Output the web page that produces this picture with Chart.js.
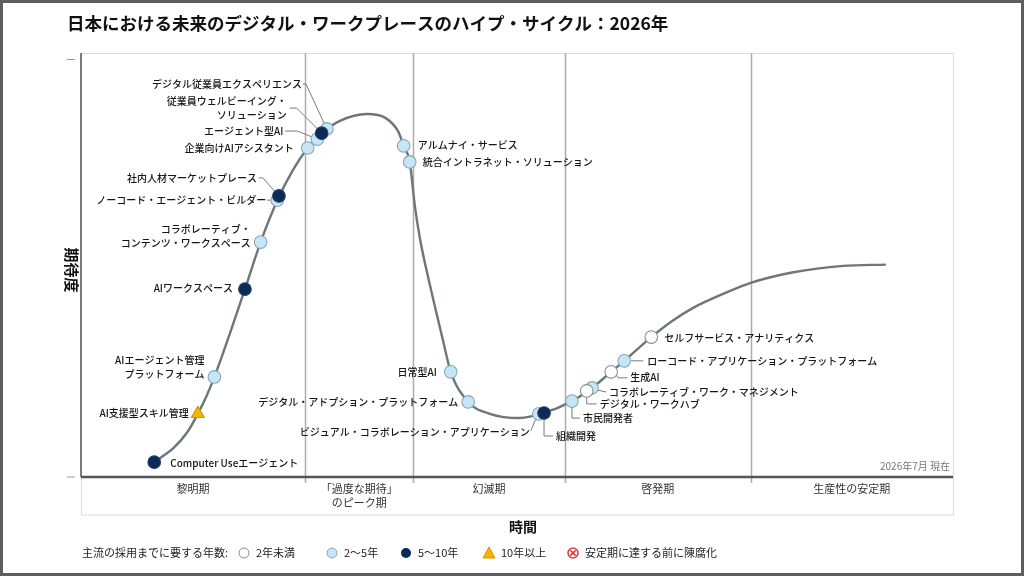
<!DOCTYPE html>
<html lang="ja">
<head>
<meta charset="utf-8">
<title>日本における未来のデジタル・ワークプレースのハイプ・サイクル：2026年</title>
<script src="https://cdn.jsdelivr.net/npm/chart.js@4.4.1/dist/chart.umd.min.js"></script>
<style>
  html, body { margin: 0; padding: 0; background: #fff; }
  canvas { display: block; }
</style>
</head>
<body>
<canvas id="hypeChart" width="1024" height="576"></canvas>
<script>
// hype curve (time 0-100, expectation 0-100)
const curveTime = [8.4, 9.1, 10.6, 12.2, 13.4, 14.4, 15.3, 17.1, 18.8, 20.6, 22.6, 24.3, 26.0, 27.6, 29.7, 32.8, 34.9, 36.4, 37.0, 37.7,
                   38.3, 38.9, 39.7, 40.6, 41.5, 42.4, 44.4, 46.9, 50.3, 53.1, 56.3, 58.6, 60.8, 62.3, 65.4, 67.8, 70.2, 74.1, 76.8, 81.7, 87.4, 92.3];
const curveHype = [3.5, 4.5, 6.8, 10.6, 14.9, 19.1, 23.6, 34.0, 44.3, 55.4, 65.6, 72.4, 77.6, 81.1, 84.0, 85.6, 84.7, 81.4, 78.1, 74.3,
                   63.7, 55.9, 48.1, 40.1, 32.3, 24.8, 17.7, 14.9, 13.9, 15.1, 17.9, 21.0, 24.8, 27.4, 33.0, 36.8, 39.9, 43.6, 45.8, 48.3, 49.8, 50.1];

// technologies on the curve
const techNames = [
  'Computer Useエージェント', 'AI支援型スキル管理', 'AIエージェント管理\nプラットフォーム', 'AIワークスペース',
  'コラボレーティブ・\nコンテンツ・ワークスペース', 'ノーコード・エージェント・ビルダー', '社内人材マーケットプレース',
  '企業向けAIアシスタント', 'エージェント型AI', '従業員ウェルビーイング・\nソリューション', 'デジタル従業員エクスペリエンス',
  'アルムナイ・サービス', '統合イントラネット・ソリューション', '日常型AI', 'デジタル・アドプション・プラットフォーム',
  'ビジュアル・コラボレーション・アプリケーション', '組織開発', '市民開発者', 'デジタル・ワークハブ',
  'コラボレーティブ・ワーク・マネジメント', '生成AI', 'ローコード・アプリケーション・プラットフォーム', 'セルフサービス・アナリティクス'
];
const techTime = [8.4, 13.4, 15.3, 18.8, 20.6, 22.5, 22.7, 26.0, 27.1, 27.6, 28.2, 37.0, 37.7, 42.4, 44.4, 52.5, 53.1, 56.3, 58.0, 58.6, 60.8, 62.3, 65.4];
const techHype = [3.5, 14.9, 23.6, 44.3, 55.4, 65.3, 66.3, 77.6, 79.7, 81.1, 82.1, 78.1, 74.3, 24.8, 17.7, 14.9, 15.1, 17.9, 20.3, 21.0, 24.8, 27.4, 33.0];
const techYears = ['5to10', 'gt10', '2to5', '5to10', '2to5', '2to5', '5to10', '2to5', '2to5', '5to10', '2to5', '2to5', '2to5', '2to5', '2to5',
                   '2to5', '5to10', '2to5', 'lt2', '2to5', 'lt2', '2to5', 'lt2'];

// phases along the time axis
const phaseNames = ['黎明期', '「過度な期待」\nのピーク期', '幻滅期', '啓発期', '生産性の安定期'];
const phaseEnds = [25.7, 38.1, 55.5, 76.8, 100];

const legendTitle = '主流の採用までに要する年数:';
const legendLabels = ['2年未満', '2〜5年', '5〜10年', '10年以上', '安定期に達する前に陳腐化'];

// label placement relative to each mark: [dx, dy, align, leader path]
const labelLayout = [
  [16, 1, 'left', null],
  [-9, -1, 'right', null],
  [-10, -17, 'right', null],
  [-12, -1, 'right', null],
  [-10, -13, 'right', null],
  [-11, 0, 'right', [[-10, 0], [-6, 0]]],
  [-22, -18, 'right', [[-20, -18], [-16, -18], [-3, -3]]],
  [-14, 0, 'right', null],
  [-34, -8, 'right', [[-32, -8], [-20, -8], [-5, -2]]],
  [-35, -32, 'right', [[-32, -25], [-25, -25], [-3, -3]]],
  [-25, -45, 'right', [[-24, -45], [-21, -45], [-2, -4]]],
  [14, -1, 'left', null],
  [13, 0, 'left', null],
  [-14, 0, 'right', null],
  [-10, 0, 'right', null],
  [-9, 18, 'right', [[-8, 17], [-3, 5]]],
  [12, 23, 'left', [[0, 6], [0, 23], [9, 23]]],
  [11, 17, 'left', [[0, 6], [0, 17], [8, 17]]],
  [13, 13, 'left', [[0, 6], [0, 13], [10, 13]]],
  [17, 4, 'left', [[5, 2], [14, 4]]],
  [19, 5, 'left', [[5, 3], [7, 6], [16, 6]]],
  [23, 0, 'left', [[7, 0], [19, 0]]],
  [13, 1, 'left', null]
];

const FONT = '"Noto Sans CJK JP", "Noto Sans", sans-serif';
const groups = [
  { key: '2to5', bg: '#c6e6f5', border: '#86a8b8', order: 4, style: 'circle', r: 6.3 },
  { key: 'lt2', bg: '#ffffff', border: '#8c8c8c', order: 3, style: 'circle', r: 6.3 },
  { key: '5to10', bg: '#0c2a56', border: '#253f66', order: 2, style: 'circle', r: 6.3 },
  { key: 'gt10', bg: '#f4b400', border: '#cf9800', order: 1, style: 'triangle', r: 7.5 }
];

const datasets = [{
  label: 'curve',
  data: curveTime.map((t, i) => ({ x: t, y: curveHype[i] })),
  showLine: true,
  borderColor: '#6b777b',
  borderWidth: 2.4,
  pointRadius: 0,
  cubicInterpolationMode: 'monotone',
  order: 10
}];
groups.forEach(g => {
  const pts = [];
  techYears.forEach((k, i) => { if (k === g.key) pts.push({ x: techTime[i], y: techHype[i] }); });
  datasets.push({
    label: g.key,
    data: pts,
    showLine: false,
    pointStyle: g.style,
    pointRadius: g.r,
    pointBorderWidth: 1.1,
    pointBackgroundColor: g.bg,
    pointBorderColor: g.border,
    order: g.order
  });
});

function seg(ctx, pts) {
  ctx.beginPath();
  ctx.moveTo(pts[0][0], pts[0][1]);
  for (let k = 1; k < pts.length; k++) ctx.lineTo(pts[k][0], pts[k][1]);
  ctx.stroke();
}

const hypePlugin = {
  id: 'hypeDecor',
  beforeDatasetsDraw(chart) {
    const { ctx, chartArea: a, scales: { x, y } } = chart;
    ctx.save();
    // plot box and band under the axis
    ctx.strokeStyle = '#dcdcdc';
    ctx.lineWidth = 1;
    ctx.strokeRect(a.left + 0.5, a.top + 0.5, a.right - a.left, a.bottom - a.top);
    ctx.strokeRect(a.left + 0.5, a.bottom, a.right - a.left, 38);
    // phase dividers
    ctx.strokeStyle = '#acacac';
    ctx.lineWidth = 1.5;
    phaseEnds.slice(0, -1).forEach(v => {
      const px = Math.round(x.getPixelForValue(v)) + 0.5;
      seg(ctx, [[px, a.top], [px, a.bottom + 6]]);
    });
    // axes
    ctx.strokeStyle = '#555';
    ctx.lineWidth = 1.5;
    seg(ctx, [[a.left, a.top], [a.left, a.bottom]]);
    ctx.lineWidth = 2.5;
    seg(ctx, [[a.left, a.bottom], [a.right, a.bottom]]);
    ctx.strokeStyle = '#999';
    ctx.lineWidth = 1;
    seg(ctx, [[67, a.top + 6.5], [75, a.top + 6.5]]);
    seg(ctx, [[67, a.bottom], [75, a.bottom]]);
    // leader lines
    ctx.strokeStyle = '#7a7a7a';
    ctx.lineWidth = 1;
    techNames.forEach((n, i) => {
      const lead = labelLayout[i][3];
      if (!lead) return;
      const px = x.getPixelForValue(techTime[i]);
      const py = y.getPixelForValue(techHype[i]);
      seg(ctx, lead.map(p => [px + p[0], py + p[1]]));
    });
    ctx.restore();
  },
  afterDatasetsDraw(chart) {
    const { ctx, chartArea: a, scales: { x, y } } = chart;
    ctx.save();
    ctx.textBaseline = 'middle';
    // technology labels
    ctx.fillStyle = '#161616';
    ctx.font = '500 10px ' + FONT;
    techNames.forEach((n, i) => {
      const [dx, dy, align] = labelLayout[i];
      const px = x.getPixelForValue(techTime[i]);
      const py = y.getPixelForValue(techHype[i]);
      ctx.textAlign = align;
      n.split('\n').forEach((ln, j) => ctx.fillText(ln, px + dx, py + dy + j * 14));
    });
    // phase names
    ctx.fillStyle = '#333';
    ctx.font = '11px ' + FONT;
    ctx.textAlign = 'center';
    let start = 0;
    phaseNames.forEach((p, i) => {
      const cx = (x.getPixelForValue(start) + x.getPixelForValue(phaseEnds[i])) / 2;
      p.split('\n').forEach((ln, j) => ctx.fillText(ln, cx, a.bottom + 12 + j * 14));
      start = phaseEnds[i];
    });
    // as-of note
    ctx.fillStyle = '#777';
    ctx.font = '10px ' + FONT;
    ctx.textAlign = 'right';
    ctx.fillText('2026年7月 現在', a.right - 3, a.bottom - 11);
    // title
    ctx.fillStyle = '#111';
    ctx.font = 'bold 17.5px ' + FONT;
    ctx.textAlign = 'left';
    ctx.fillText('日本における未来のデジタル・ワークプレースのハイプ・サイクル：2026年', 67, 23);
    // axis titles
    ctx.font = 'bold 14px ' + FONT;
    ctx.textAlign = 'center';
    ctx.fillText('時間', 523, 527);
    ctx.save();
    ctx.translate(72, 270);
    ctx.rotate(Math.PI / 2);
    ctx.font = 'bold 15px ' + FONT;
    ctx.fillText('期待度', 0, 0);
    ctx.restore();
    // legend
    const ly = 553;
    ctx.font = '11px ' + FONT;
    ctx.textAlign = 'left';
    ctx.fillStyle = '#222';
    ctx.fillText(legendTitle, 82, ly);
    const marks = [244, 332, 406, 489, 573];
    ctx.lineWidth = 1;
    // <2 years
    ctx.beginPath(); ctx.arc(marks[0], ly, 5, 0, Math.PI * 2);
    ctx.fillStyle = '#fff'; ctx.fill(); ctx.strokeStyle = '#8c8c8c'; ctx.stroke();
    // 2-5 years
    ctx.beginPath(); ctx.arc(marks[1], ly, 5, 0, Math.PI * 2);
    ctx.fillStyle = groups[0].bg; ctx.fill(); ctx.strokeStyle = groups[0].border; ctx.stroke();
    // 5-10 years
    ctx.beginPath(); ctx.arc(marks[2], ly, 5, 0, Math.PI * 2);
    ctx.fillStyle = groups[2].bg; ctx.fill();
    // >10 years
    ctx.beginPath();
    ctx.moveTo(marks[3], ly - 6); ctx.lineTo(marks[3] + 6, ly + 5); ctx.lineTo(marks[3] - 6, ly + 5); ctx.closePath();
    ctx.fillStyle = groups[3].bg; ctx.fill(); ctx.strokeStyle = groups[3].border; ctx.stroke();
    // obsolete
    ctx.beginPath(); ctx.arc(marks[4], ly, 5, 0, Math.PI * 2);
    ctx.fillStyle = '#fff'; ctx.fill(); ctx.strokeStyle = '#e23b3b'; ctx.lineWidth = 1.6; ctx.stroke();
    seg(ctx, [[marks[4] - 2.6, ly - 2.6], [marks[4] + 2.6, ly + 2.6]]);
    seg(ctx, [[marks[4] + 2.6, ly - 2.6], [marks[4] - 2.6, ly + 2.6]]);
    ctx.fillStyle = '#222';
    legendLabels.forEach((t, i) => ctx.fillText(t, marks[i] + 12, ly));
    // outer frame
    ctx.strokeStyle = '#5e5e5e';
    ctx.lineWidth = 3;
    ctx.strokeRect(1.5, 1.5, 1021, 573);
    ctx.restore();
  }
};

new Chart(document.getElementById('hypeChart').getContext('2d'), {
  type: 'scatter',
  data: { datasets: datasets },
  options: {
    responsive: false,
    animation: false,
    layout: { padding: { left: 81, right: 71, top: 53, bottom: 99 } },
    plugins: { legend: { display: false }, tooltip: { enabled: false } },
    scales: {
      x: { type: 'linear', min: 0, max: 100, display: false },
      y: { type: 'linear', min: 0, max: 100, display: false }
    }
  },
  plugins: [hypePlugin]
});
</script>
</body>
</html>
